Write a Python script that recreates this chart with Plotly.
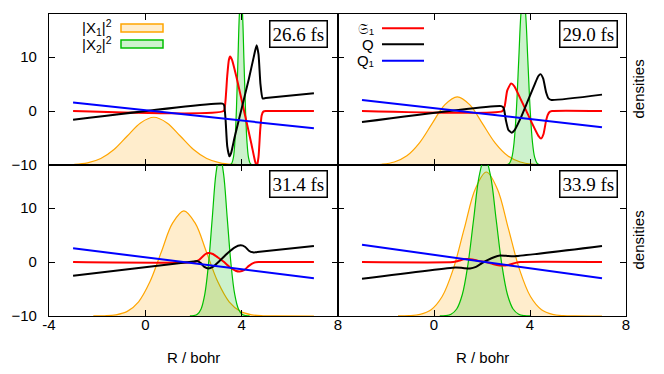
import plotly.graph_objects as go

W, H = 664, 374

TIME_LABELS = ["26.6 fs", "29.0 fs", "31.4 fs", "33.9 fs"]
X_TICKS = [-4, 0, 4, 8]
Y_TICKS = [-10, 0, 10]

# ---------------- panel 1 : 26.6 fs ----------------
R_S1_266 = [-3, 3.25, 3.32, 3.4, 3.47, 3.52, 3.6, 3.8, 4.1, 4.4, 4.55, 4.63, 4.7, 4.77, 4.83, 4.9, 5.0, 7]
S1_266 = [0, 0, 1.5, 6.5, 9.5, 10.1, 9.5, 6.0, 0.0, -6.0, -9.2, -10.3, -8.5, -3.5, -0.8, -0.1, 0, 0]
R_Q_266 = [-3, 3.2, 3.27, 3.33, 3.4, 3.49, 3.56, 3.7, 4.0, 4.3, 4.5, 4.62, 4.7, 4.78, 4.87, 5.0, 7]
Q_266 = [-1.6, 1.38, 1.1, -1.5, -6.5, -8.4, -7.8, -5.0, 0.5, 6.0, 10.0, 12.2, 10.5, 5.0, 2.35, 2.41, 3.3]
R_Q1 = [-3, 7]
Q1_266 = [1.6, -3.2]
R_X1_266 = [-2.95, -2.4, -1.85, -1.3, -0.75, -0.2, 0.35, 0.9, 1.45, 2.0, 2.55, 3.1, 3.65, 4.2, 4.75, 7]
X1_266 = [0.10, 0.39, 1.20, 2.87, 5.37, 7.81, 8.85, 7.81, 5.37, 2.87, 1.20, 0.39, 0.10, 0.02, 0.0, 0.0]
R_X2_266 = [3.47, 3.533, 3.595, 3.658, 3.72, 3.783, 3.845, 3.908, 3.97, 4.033, 4.095, 4.158, 4.22, 4.283, 4.345, 4.408, 4.47]
X2_266 = [0.01, 0.07, 0.36, 1.40, 4.33, 10.39, 19.41, 28.24, 32.0, 28.24, 19.41, 10.39, 4.33, 1.40, 0.36, 0.07, 0.01]

# ---------------- panel 2 : 29.0 fs ----------------
R_S1_290 = [-3, 2.85, 2.95, 3.05, 3.21, 3.35, 3.6, 3.85, 4.1, 4.35, 4.46, 4.56, 4.66, 4.74, 4.82, 4.92, 7]
S1_290 = [0, 0, 1.0, 3.8, 5.1, 4.6, 2.3, 0.0, -2.4, -4.6, -5.1, -4.3, -2.0, -0.7, -0.15, 0, 0]
R_Q_290 = [-3, 2.8, 2.9, 3.0, 3.1, 3.24, 3.35, 3.6, 3.9, 4.2, 4.35, 4.44, 4.55, 4.67, 4.78, 4.9, 7]
Q_290 = [-2.04, 0.92, 0.6, -1.8, -3.5, -4.0, -3.6, -1.4, 1.8, 5.0, 6.5, 6.85, 6.0, 3.5, 2.3, 2.05, 3.05]
Q1_290 = [2.04, -3.0]
R_X1_290 = [-2.705, -2.18, -1.655, -1.13, -0.605, -0.08, 0.445, 0.97, 1.495, 2.02, 2.545, 3.07, 3.595, 4.12, 4.645, 5.17, 7]
X1_290 = [0.03, 0.14, 0.56, 1.71, 4.11, 7.67, 11.16, 12.65, 11.16, 7.67, 4.11, 1.71, 0.56, 0.14, 0.03, 0.0, 0.0]
R_X2_290 = [2.96, 3.055, 3.15, 3.245, 3.34, 3.435, 3.53, 3.625, 3.72, 3.815, 3.91, 4.005, 4.10, 4.195, 4.29, 4.385, 4.48]
X2_290 = [0.01, 0.07, 0.36, 1.40, 4.33, 10.39, 19.41, 28.24, 32.0, 28.24, 19.41, 10.39, 4.33, 1.40, 0.36, 0.07, 0.01]

# ---------------- panel 3 : 31.4 fs ----------------
R_S1_314 = [-3, 2.05, 2.2, 2.35, 2.5, 2.62, 2.8, 3.0, 3.27, 3.5, 3.75, 3.92, 4.1, 4.3, 4.5, 4.7, 7]
S1_314 = [0, 0, 0.3, 0.9, 1.5, 1.7, 1.5, 0.9, 0.0, -0.9, -1.6, -1.75, -1.5, -0.7, -0.15, 0, 0]
R_Q_314 = [-3, 2.0, 2.15, 2.3, 2.45, 2.62, 2.8, 3.1, 3.4, 3.7, 3.96, 4.15, 4.3, 4.47, 4.65, 7]
Q_314 = [-2.54, 0.1, 0.2, -0.2, -0.9, -1.2, -0.9, 0.3, 1.6, 2.7, 3.1, 2.8, 2.1, 1.8, 1.85, 3.0]
Q1_314 = [2.55, -3.0]
R_X1_314 = [-2.16, -1.69, -1.22, -0.75, -0.28, 0.19, 0.66, 1.13, 1.6, 2.07, 2.54, 3.01, 3.48, 3.95, 4.42, 4.89, 5.36, 7]
X1_314 = [0.01, 0.04, 0.22, 0.86, 2.64, 6.33, 11.83, 17.21, 19.5, 17.21, 11.83, 6.33, 2.64, 0.86, 0.22, 0.04, 0.01, 0.0]
R_X2_314 = [1.85, 2.005, 2.16, 2.315, 2.47, 2.625, 2.78, 2.935, 3.09, 3.245, 3.40, 3.555, 3.71, 3.865, 4.02, 4.175, 4.33]
X2_314 = [0.01, 0.07, 0.33, 1.32, 4.06, 9.74, 18.20, 26.48, 30.0, 26.48, 18.20, 9.74, 4.06, 1.32, 0.33, 0.07, 0.01]

# ---------------- panel 4 : 33.9 fs ----------------
R_S1_339 = [-3, 0.8, 1.0, 1.3, 1.6, 1.85, 2.15, 2.45, 2.8, 3.1, 3.4, 3.6, 7]
S1_339 = [0, 0, 0.2, 0.55, 0.5, 0.2, 0.0, -0.35, -0.65, -0.55, -0.15, 0, 0]
R_Q_339 = [-3, 0.9, 1.2, 1.5, 1.75, 2.0, 2.25, 2.5, 2.75, 3.0, 3.37, 7]
Q_339 = [-3.1, -1.0, -1.1, -1.2, -0.9, -0.2, 0.4, 0.9, 1.2, 1.15, 1.1, 3.0]
Q1_339 = [3.2, -3.0]
R_X1_339 = [-1.5, -1.04, -0.58, -0.12, 0.34, 0.80, 1.26, 1.72, 2.18, 2.64, 3.10, 3.56, 4.02, 4.48, 4.94, 5.40, 5.86, 7]
X1_339 = [0.01, 0.06, 0.30, 1.17, 3.61, 8.67, 16.19, 23.56, 26.7, 23.56, 16.19, 8.67, 3.61, 1.17, 0.30, 0.06, 0.01, 0.0]
R_X2_339 = [0.24, 0.475, 0.71, 0.945, 1.18, 1.415, 1.65, 1.885, 2.12, 2.355, 2.59, 2.825, 3.06, 3.295, 3.53, 3.765, 4.0]
X2_339 = [0.01, 0.06, 0.33, 1.30, 3.99, 9.58, 17.89, 26.03, 29.5, 26.03, 17.89, 9.58, 3.99, 1.30, 0.33, 0.06, 0.01]

panels = [
    dict(time=TIME_LABELS[0], rS1=R_S1_266, S1=S1_266, rQ=R_Q_266, Q=Q_266, rQ1=R_Q1, Q1=Q1_266,
         rX1=R_X1_266, X1=X1_266, rX2=R_X2_266, X2=X2_266),
    dict(time=TIME_LABELS[1], rS1=R_S1_290, S1=S1_290, rQ=R_Q_290, Q=Q_290, rQ1=R_Q1, Q1=Q1_290,
         rX1=R_X1_290, X1=X1_290, rX2=R_X2_290, X2=X2_290),
    dict(time=TIME_LABELS[2], rS1=R_S1_314, S1=S1_314, rQ=R_Q_314, Q=Q_314, rQ1=R_Q1, Q1=Q1_314,
         rX1=R_X1_314, X1=X1_314, rX2=R_X2_314, X2=X2_314),
    dict(time=TIME_LABELS[3], rS1=R_S1_339, S1=S1_339, rQ=R_Q_339, Q=Q_339, rQ1=R_Q1, Q1=Q1_339,
         rX1=R_X1_339, X1=X1_339, rX2=R_X2_339, X2=X2_339),
]

ORANGE = "#FFA500"
ORANGE_FILL = "rgba(255,165,0,0.2)"
GREEN = "#00C000"
GREEN_FILL = "rgba(0,192,0,0.2)"

SANS = "Liberation Sans, Arial, Helvetica, sans-serif"
SERIF = "Liberation Serif, Times New Roman, serif"
FS = 15


def px(x):
    return x / W


def py(y):
    return 1 - y / H


XDOM = [[px(49), px(338)], [px(338), px(626)]]
YDOM = [[py(165), py(14)], [py(316), py(165)]]


def axname(letter, idx):
    return (letter, letter + "axis") if idx == 1 else (f"{letter}{idx}", f"{letter}axis{idx}")


fig = go.Figure()
layout = {}
annotations = []
shapes = []

for i, p in enumerate(panels):
    n = i + 1
    col, row = i % 2, i // 2
    xref, xkey = axname("x", n)
    dref, dkey = axname("y", 2 * n - 1)
    lref, lkey = axname("y", 2 * n)

    fig.add_trace(go.Scatter(x=p["rX1"], y=p["X1"], xaxis=xref, yaxis=dref, mode="lines",
                             line=dict(color=ORANGE, width=1.2, shape="spline"),
                             fill="tozeroy", fillcolor=ORANGE_FILL, showlegend=False, hoverinfo="skip"))
    fig.add_trace(go.Scatter(x=p["rX2"], y=p["X2"], xaxis=xref, yaxis=dref, mode="lines",
                             line=dict(color=GREEN, width=1.2, shape="spline"),
                             fill="tozeroy", fillcolor=GREEN_FILL, showlegend=False, hoverinfo="skip"))
    for r, v, c in [(p["rS1"], p["S1"], "#FF0000"), (p["rQ"], p["Q"], "#000000"), (p["rQ1"], p["Q1"], "#0000FF")]:
        fig.add_trace(go.Scatter(x=r, y=v, xaxis=xref, yaxis=lref, mode="lines",
                                 line=dict(color=c, width=2, shape="spline", smoothing=0.5),
                                 showlegend=False, hoverinfo="skip"))

    layout[xkey] = dict(domain=XDOM[col], range=[-4, 8], anchor=dref, tickvals=X_TICKS,
                        ticktext=[str(t) for t in X_TICKS] if col == 0 else [""] + [str(t) for t in X_TICKS[1:]],
                        showticklabels=(row == 1), ticks="inside", ticklen=6, tickwidth=1.2,
                        tickcolor="black", showline=True, linecolor="black", linewidth=1.3,
                        mirror="ticks", showgrid=False, zeroline=False, automargin=False,
                        ticklabelstandoff=-5,
                        tickfont=dict(family=SANS, size=FS, color="black"))
    layout[dkey] = dict(domain=YDOM[row], range=[0, 28], anchor=xref, visible=False,
                        showgrid=False, zeroline=False, fixedrange=True)
    layout[lkey] = dict(overlaying=dref, anchor=xref, side="left", range=[-10, 18], tickvals=Y_TICKS,
                        showticklabels=(col == 0), ticks="inside", ticklen=6, tickwidth=1.2,
                        tickcolor="black", showline=True, linecolor="black", linewidth=1.3,
                        mirror="ticks", showgrid=False, zeroline=False, automargin=False,
                        ticklabelstandoff=8,
                        tickfont=dict(family=SANS, size=FS, color="black"))

    cx = 298.5 if col == 0 else 588
    cy = 33.5 if row == 0 else 183.7
    annotations.append(dict(text=p["time"], x=px(cx), y=py(cy), xref="paper", yref="paper",
                            xanchor="center", yanchor="middle", showarrow=False,
                            font=dict(family=SERIF, size=19, color="black"),
                            bordercolor="black", borderwidth=1.5, borderpad=2, bgcolor="white"))

# axis titles
for cx in [193.5, 482]:
    annotations.append(dict(text="R / bohr", x=px(cx), y=py(357), xref="paper", yref="paper",
                            xanchor="center", yanchor="middle", showarrow=False,
                            font=dict(family=SANS, size=FS, color="black")))
for cy in [89.5, 240.5]:
    annotations.append(dict(text="densities", x=px(638), y=py(cy), xref="paper", yref="paper",
                            xanchor="center", yanchor="middle", showarrow=False, textangle=-90,
                            font=dict(family=SANS, size=FS, color="black")))

# legend: densities (top-left panel)
LEG_DENS = [("|X<sub>1</sub>|<sup>2</sup>", ORANGE, ORANGE_FILL, 28),
            ("|X<sub>2</sub>|<sup>2</sup>", GREEN, GREEN_FILL, 44)]
for txt, lc, fc, yy in LEG_DENS:
    annotations.append(dict(text=txt, x=px(114), y=py(yy), xref="paper", yref="paper",
                            xanchor="right", yanchor="middle", showarrow=False,
                            font=dict(family=SANS, size=FS, color="black")))
    shapes.append(dict(type="rect", xref="paper", yref="paper", x0=px(121), x1=px(163),
                       y0=py(yy - 4), y1=py(yy + 4), line=dict(color=lc, width=1.5), fillcolor=fc))

# legend: lines (top-right panel)
LEG_LINES = [("𝔖₁", "#FF0000", 28.3), ("Q", "#000000", 44.3), ("Q₁", "#0000FF", 60.7)]
for txt, lc, yy in LEG_LINES:
    annotations.append(dict(text=txt, x=px(376), y=py(yy), xref="paper", yref="paper",
                            xanchor="right", yanchor="middle", showarrow=False,
                            font=dict(family=SANS, size=FS, color="black")))
    shapes.append(dict(type="line", xref="paper", yref="paper", x0=px(382), x1=px(424),
                       y0=py(yy), y1=py(yy), line=dict(color=lc, width=2)))

fig.update_layout(width=W, height=H, margin=dict(l=0, r=0, t=0, b=0),
                  paper_bgcolor="white", plot_bgcolor="rgba(0,0,0,0)",
                  annotations=annotations, shapes=shapes, showlegend=False, **layout)

fig.write_html("out.html", config={"displayModeBar": False},
               post_script="document.body.style.margin='0px';document.body.style.padding='0px';")
